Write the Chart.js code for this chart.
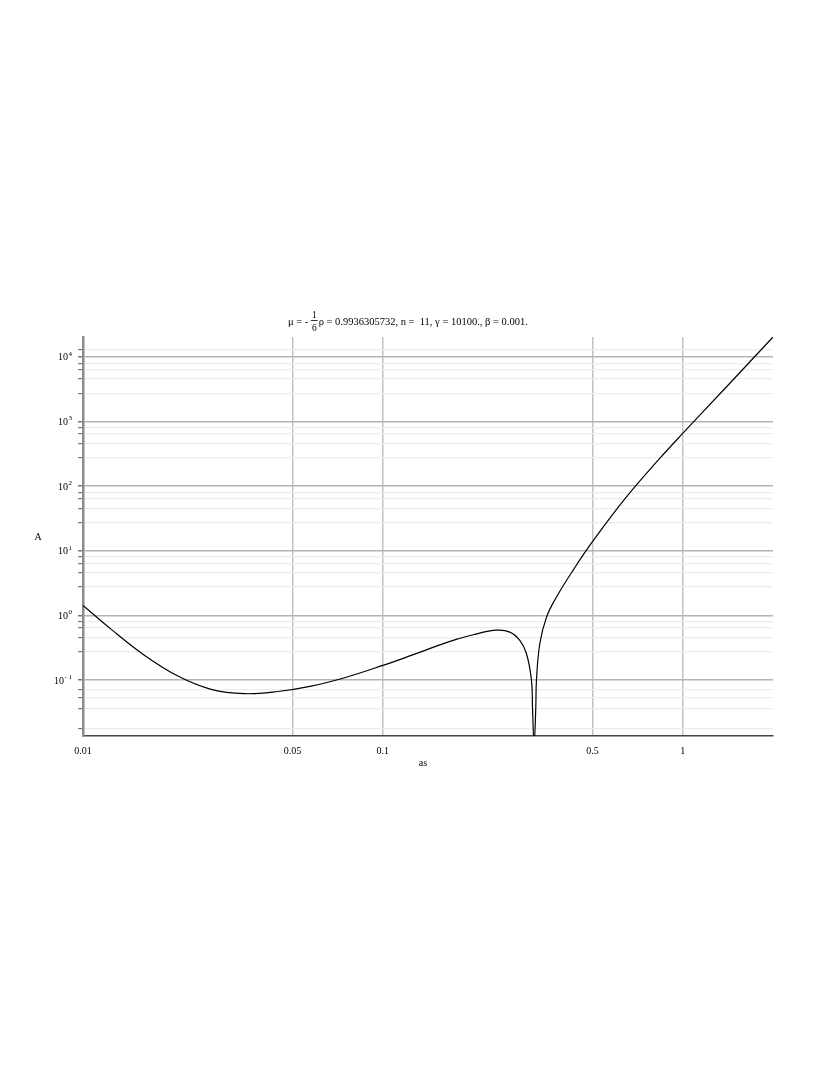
<!DOCTYPE html>
<html>
<head>
<meta charset="utf-8">
<script src="https://cdn.jsdelivr.net/npm/chart.js@4.4.0/dist/chart.umd.min.js"></script>
<style>
  html, body { margin: 0; padding: 0; background: #fff; }
  canvas { display: block; }
</style>
</head>
<body>
<canvas id="chart" width="830" height="1075"></canvas>
<script>
// curve (as, A)
const asValues = [0.01, 0.01243, 0.01606, 0.02073, 0.02677, 0.03459, 0.04467, 0.0577, 0.0745, 0.1,
    0.1243, 0.1549, 0.1778, 0.2, 0.2393, 0.2651, 0.2862, 0.3013, 0.3131, 0.3155,
    0.3194, 0.3236, 0.3252, 0.3337, 0.3514, 0.3793, 0.4307, 0.5, 0.649, 0.838,
    1.0, 1.398, 2.0];
const aValues = [1.43, 0.607, 0.24, 0.115, 0.0716, 0.0614, 0.0664, 0.0803, 0.1083, 0.168,
    0.24, 0.349, 0.432, 0.502, 0.59, 0.551, 0.41, 0.255, 0.0984, 0.0379,
    0.01, 0.0379, 0.0984, 0.364, 0.941, 1.92, 4.98, 13.8, 68.1, 268,
    653, 3420, 20300];

const xTickValues = [0.01, 0.05, 0.1, 0.5, 1];
const xTickLabels = ['0.01', '0.05', '0.1', '0.5', '1'];
const yMajorTicks = [0.1, 1, 10, 100, 1000, 10000];
const yExpLabels = ['- 1', '0', '1', '2', '3', '4'];
const yMinorTicks = [0.018, 0.036, 0.054, 0.072, 0.275, 0.455, 0.64, 0.8, 2.75, 4.55, 6.4, 8,
    27.5, 45.5, 64, 80, 275, 455, 640, 800, 2750, 4550, 6400, 8000, 13000];

const titleLeft = 'μ = - ';
const titleNum = '1';
const titleDen = '6';
const titleRight = 'ρ = 0.9936305732, n =  11, γ = 10100., β = 0.001.';

const serif = '"Liberation Serif", "Times New Roman", serif';

const labels = {
    id: 'labels',
    afterDraw(chart) {
        const ctx = chart.ctx;
        const area = chart.chartArea;
        const y = chart.scales.y;
        ctx.save();
        ctx.fillStyle = '#000';
        ctx.textBaseline = 'alphabetic';

        // y tick labels 10^k
        yMajorTicks.forEach((v, i) => {
            const py = y.getPixelForValue(v);
            const right = area.left - 11;
            ctx.textAlign = 'right';
            ctx.font = '7px ' + serif;
            const ew = ctx.measureText(yExpLabels[i]).width;
            ctx.fillText(yExpLabels[i], right, py - 1);
            ctx.font = '10px ' + serif;
            ctx.fillText('10', right - ew - 0.5, py + 3.5);
        });

        // axis names
        ctx.font = '10px ' + serif;
        ctx.textAlign = 'center';
        ctx.fillText('A', 38, 540);
        ctx.fillText('as', (area.left + area.right) / 2 - 5, area.bottom + 30);

        // title with the 1/6 fraction
        ctx.font = '10.5px ' + serif;
        ctx.textAlign = 'left';
        let tx = 288;
        ctx.fillText(titleLeft, tx, 325);
        tx += ctx.measureText(titleLeft).width;
        ctx.font = '9.5px ' + serif;
        const fw = Math.max(ctx.measureText(titleNum).width, ctx.measureText(titleDen).width) + 2;
        ctx.textAlign = 'center';
        ctx.fillText(titleNum, tx + fw / 2, 317.5);
        ctx.fillText(titleDen, tx + fw / 2, 331);
        ctx.strokeStyle = '#000';
        ctx.lineWidth = 0.8;
        ctx.beginPath();
        ctx.moveTo(tx, 320.5);
        ctx.lineTo(tx + fw, 320.5);
        ctx.stroke();
        tx += fw + 1;
        ctx.font = '10.5px ' + serif;
        ctx.textAlign = 'left';
        ctx.fillText(titleRight, tx, 325);
        ctx.restore();
    }
};

const ctx = document.getElementById('chart');

new Chart(ctx, {
    type: 'line',
    data: {
        datasets: [{
            data: asValues.map((v, i) => ({ x: v, y: aValues[i] })),
            borderColor: '#000',
            borderWidth: 1.2,
            pointRadius: 0,
            fill: false,
            tension: 0.4
        }]
    },
    options: {
        responsive: false,
        animation: false,
        layout: {
            padding: { left: 78, right: 57, top: 337, bottom: 309 }
        },
        scales: {
            x: {
                type: 'logarithmic',
                min: 0.01,
                max: 2,
                afterBuildTicks: (scale) => {
                    scale.ticks = xTickValues.map(v => ({ value: v }));
                },
                border: {
                    color: '#444',
                    width: 1.5
                },
                grid: {
                    color: '#c2c2c2',
                    lineWidth: 1.5,
                    drawTicks: false
                },
                ticks: {
                    color: '#000',
                    padding: 9,
                    maxRotation: 0,
                    autoSkip: false,
                    font: { family: serif, size: 10 },
                    callback: (v, i) => xTickLabels[i]
                }
            },
            y: {
                type: 'logarithmic',
                min: 0.0136,
                max: 20300,
                afterBuildTicks: (scale) => {
                    scale.ticks = yMinorTicks.map(v => ({ value: v, major: false }))
                        .concat(yMajorTicks.map(v => ({ value: v, major: true })));
                },
                border: {
                    color: '#8c8c8c',
                    width: 2.5
                },
                grid: {
                    color: (c) => c.tick && c.tick.major ? '#b4b4b4' : '#ececec',
                    lineWidth: (c) => c.tick && c.tick.major ? 1.5 : 1.2,
                    tickColor: '#777',
                    tickLength: 5,
                    drawTicks: true
                },
                ticks: {
                    display: false
                }
            }
        },
        plugins: {
            legend: { display: false },
            tooltip: { enabled: false }
        }
    },
    plugins: [labels]
});
</script>
</body>
</html>
